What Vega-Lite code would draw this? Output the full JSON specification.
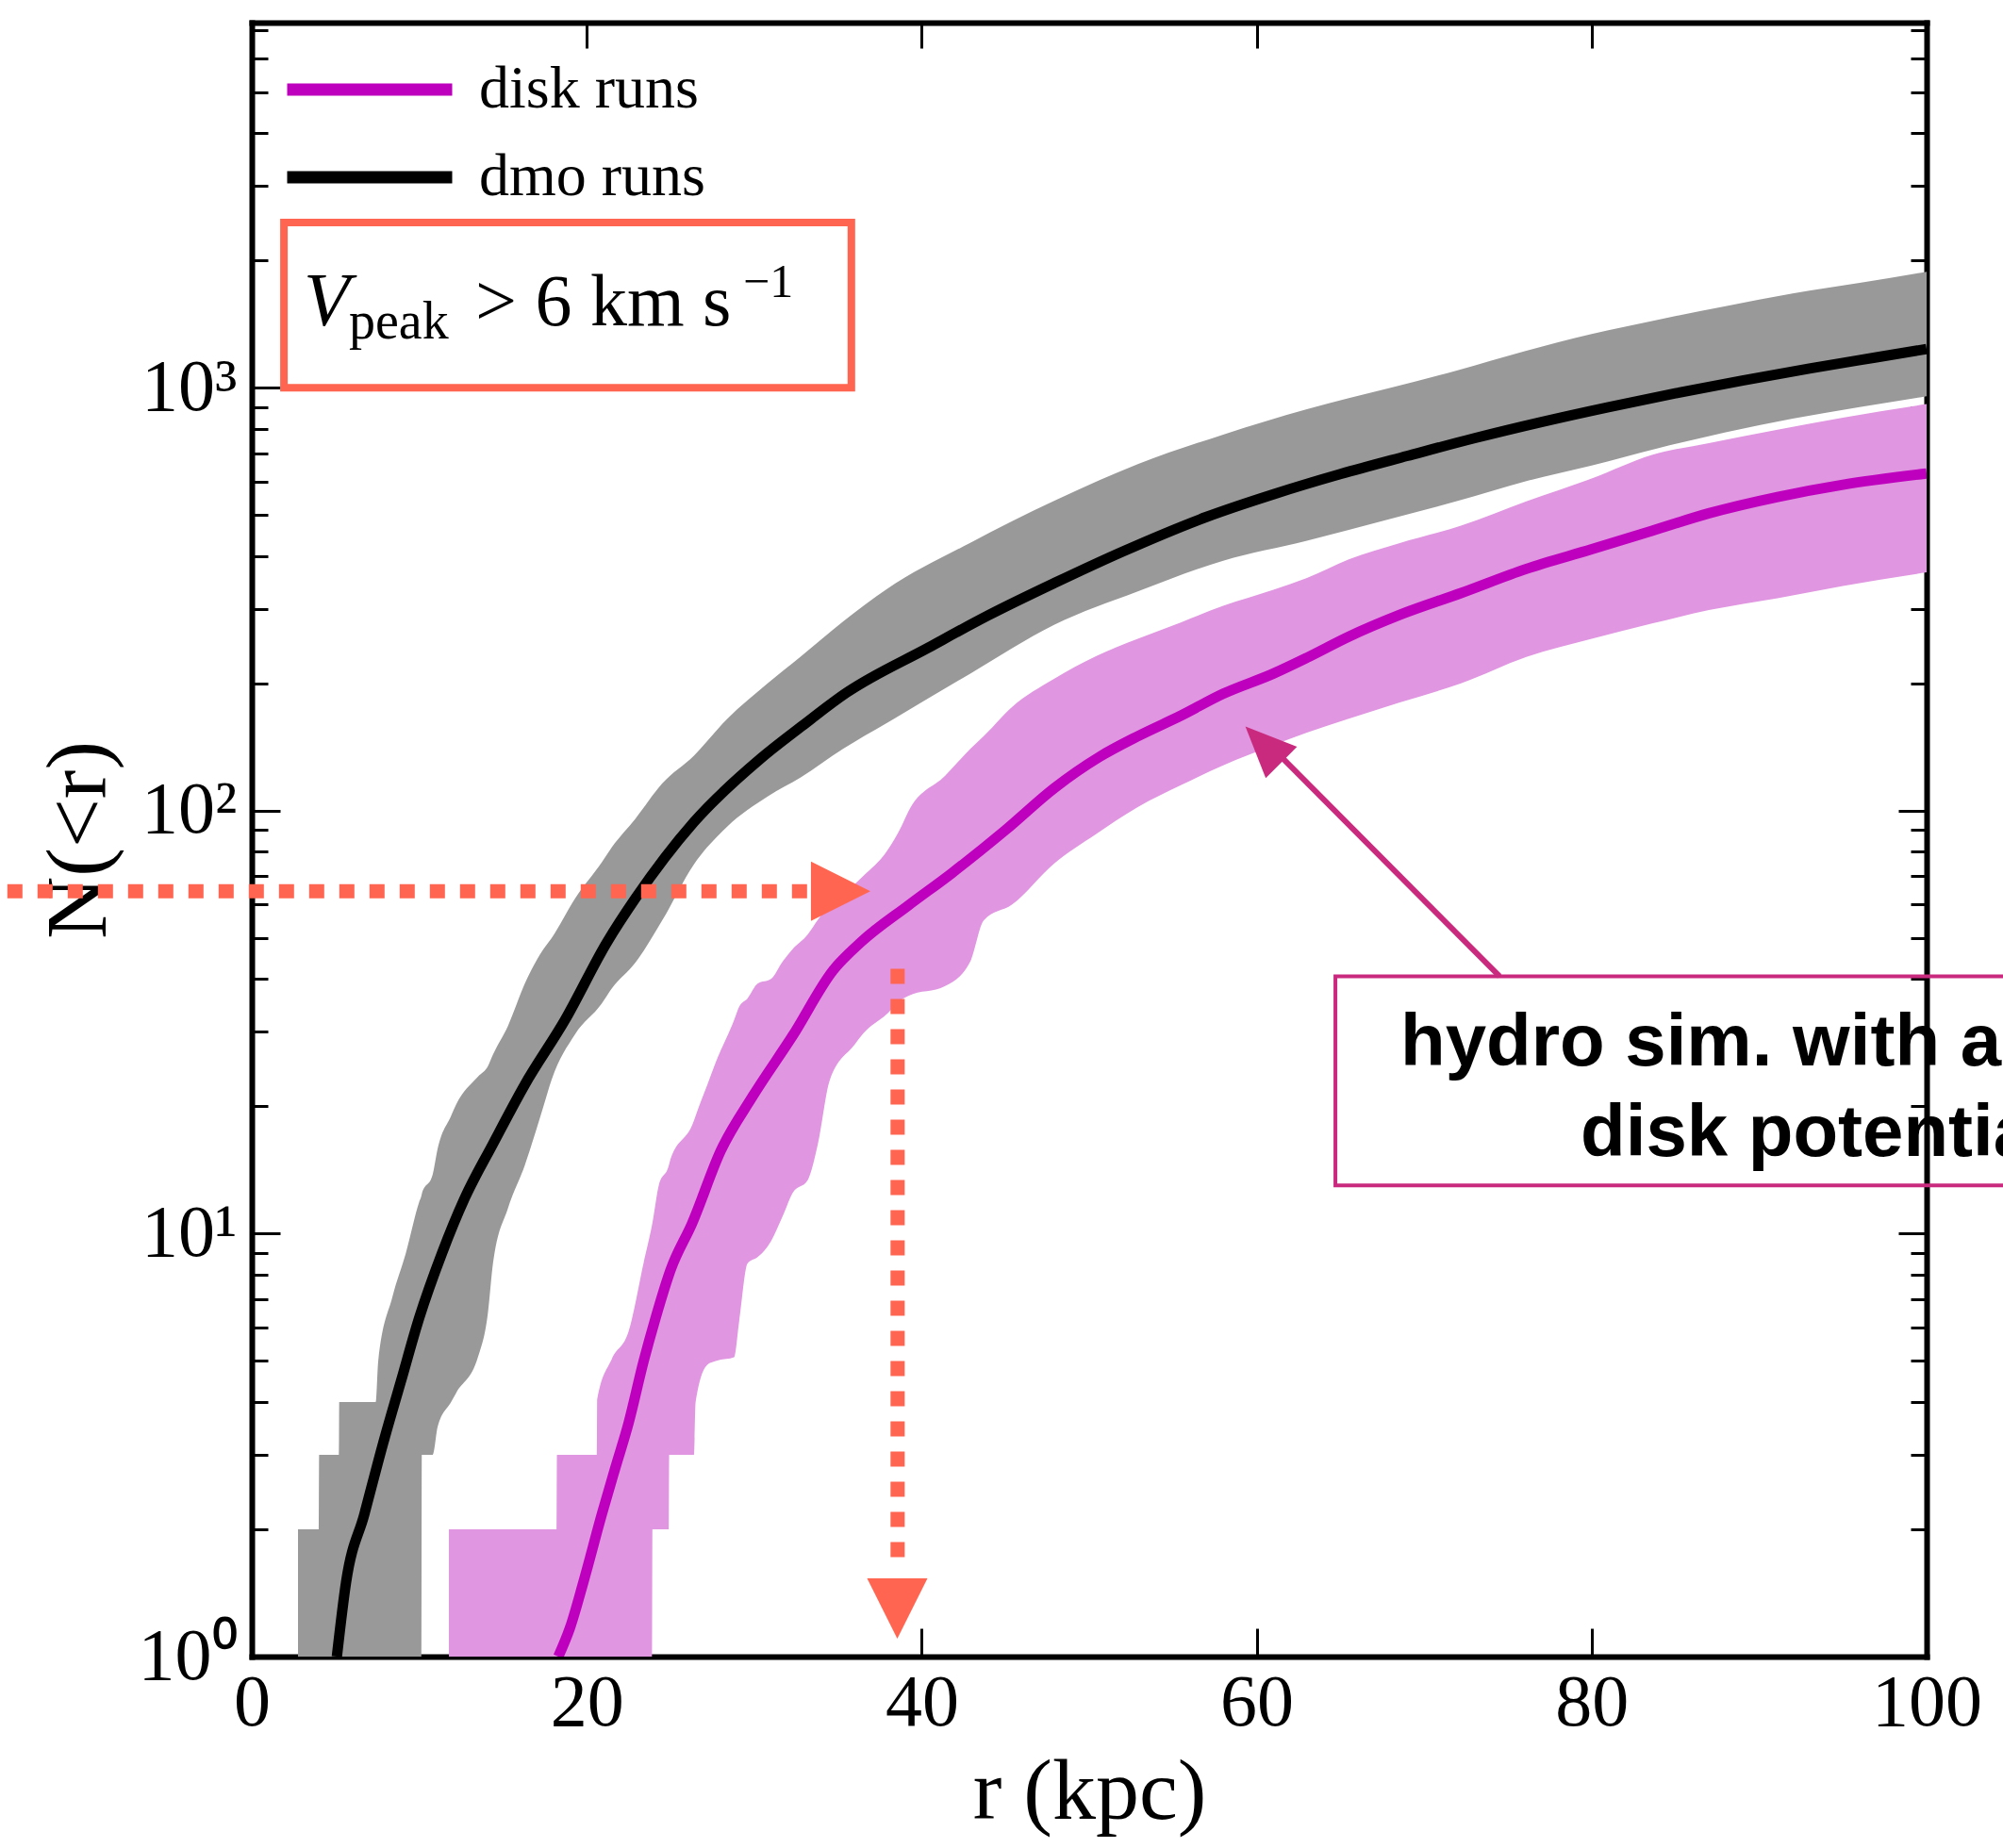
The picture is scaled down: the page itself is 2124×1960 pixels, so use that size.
{
  "$schema": "https://vega.github.io/schema/vega-lite/v6.json",
  "width": 1776,
  "height": 1733,
  "autosize": {"type": "none"},
  "padding": {"left": 267, "top": 24, "right": 81, "bottom": 203},
  "background": "white",
  "config": {"view": {"stroke": null}, "axis": {"zindex": 1, "grid": false}},
  "datasets": {
    "bands": [
      {"run": "dmo", "r": 2.76, "lo": 1, "hi": 2},
      {"run": "dmo", "r": 4.0, "lo": 1, "hi": 2},
      {"run": "dmo", "r": 4.02, "lo": 1, "hi": 3},
      {"run": "dmo", "r": 5.2, "lo": 1, "hi": 3},
      {"run": "dmo", "r": 5.22, "lo": 1, "hi": 4},
      {"run": "dmo", "r": 7.4, "lo": 1, "hi": 4},
      {"run": "dmo", "r": 7.55, "lo": 1, "hi": 5},
      {"run": "dmo", "r": 8.4, "lo": 1, "hi": 7.1},
      {"run": "dmo", "r": 9.2, "lo": 1, "hi": 9},
      {"run": "dmo", "r": 10.0, "lo": 1, "hi": 11.9},
      {"run": "dmo", "r": 10.13, "lo": 1, "hi": 12.3},
      {"run": "dmo", "r": 10.15, "lo": 3, "hi": 12.4},
      {"run": "dmo", "r": 10.8, "lo": 3, "hi": 13.8},
      {"run": "dmo", "r": 11.1, "lo": 3.5, "hi": 15.9},
      {"run": "dmo", "r": 11.9, "lo": 4, "hi": 19},
      {"run": "dmo", "r": 12.2, "lo": 4.2, "hi": 20.2},
      {"run": "dmo", "r": 13.5, "lo": 5.1, "hi": 23.5},
      {"run": "dmo", "r": 14.1, "lo": 6.5, "hi": 24.9},
      {"run": "dmo", "r": 14.4, "lo": 8.5, "hi": 26.5},
      {"run": "dmo", "r": 15.3, "lo": 11.5, "hi": 31},
      {"run": "dmo", "r": 16.3, "lo": 14.5, "hi": 39},
      {"run": "dmo", "r": 17.4, "lo": 19.9, "hi": 47},
      {"run": "dmo", "r": 17.9, "lo": 23.1, "hi": 50},
      {"run": "dmo", "r": 19.3, "lo": 29.6, "hi": 62},
      {"run": "dmo", "r": 20.9, "lo": 35, "hi": 75.5},
      {"run": "dmo", "r": 21.5, "lo": 38, "hi": 82},
      {"run": "dmo", "r": 22.9, "lo": 43.7, "hi": 95.7},
      {"run": "dmo", "r": 24.5, "lo": 55, "hi": 116},
      {"run": "dmo", "r": 26.4, "lo": 74.7, "hi": 135},
      {"run": "dmo", "r": 28.4, "lo": 91.8, "hi": 165},
      {"run": "dmo", "r": 30.8, "lo": 108, "hi": 200},
      {"run": "dmo", "r": 32.8, "lo": 120, "hi": 232},
      {"run": "dmo", "r": 35.3, "lo": 140, "hi": 280},
      {"run": "dmo", "r": 37.9, "lo": 161, "hi": 334},
      {"run": "dmo", "r": 42.9, "lo": 211, "hi": 430},
      {"run": "dmo", "r": 47.9, "lo": 275, "hi": 540},
      {"run": "dmo", "r": 52.9, "lo": 330, "hi": 660},
      {"run": "dmo", "r": 58, "lo": 390, "hi": 775},
      {"run": "dmo", "r": 63, "lo": 435, "hi": 890},
      {"run": "dmo", "r": 68, "lo": 490, "hi": 1000},
      {"run": "dmo", "r": 72, "lo": 540, "hi": 1100},
      {"run": "dmo", "r": 76, "lo": 600, "hi": 1220},
      {"run": "dmo", "r": 80, "lo": 655, "hi": 1340},
      {"run": "dmo", "r": 84, "lo": 720, "hi": 1450},
      {"run": "dmo", "r": 88, "lo": 785, "hi": 1560},
      {"run": "dmo", "r": 92, "lo": 845, "hi": 1670},
      {"run": "dmo", "r": 96, "lo": 900, "hi": 1770},
      {"run": "dmo", "r": 100, "lo": 955, "hi": 1880},
      {"run": "disk", "r": 11.77, "lo": 1, "hi": 2},
      {"run": "disk", "r": 18.2, "lo": 1, "hi": 2},
      {"run": "disk", "r": 18.22, "lo": 1, "hi": 3},
      {"run": "disk", "r": 20.6, "lo": 1, "hi": 3},
      {"run": "disk", "r": 20.62, "lo": 1, "hi": 4.05},
      {"run": "disk", "r": 21.5, "lo": 1, "hi": 5.06},
      {"run": "disk", "r": 22.5, "lo": 1, "hi": 5.88},
      {"run": "disk", "r": 23.4, "lo": 1, "hi": 8.55},
      {"run": "disk", "r": 23.9, "lo": 1, "hi": 10.5},
      {"run": "disk", "r": 23.92, "lo": 2, "hi": 10.6},
      {"run": "disk", "r": 24.3, "lo": 2, "hi": 13},
      {"run": "disk", "r": 24.9, "lo": 2, "hi": 14.5},
      {"run": "disk", "r": 24.92, "lo": 3, "hi": 14.6},
      {"run": "disk", "r": 26.4, "lo": 3, "hi": 18.5},
      {"run": "disk", "r": 26.5, "lo": 4, "hi": 19},
      {"run": "disk", "r": 27.2, "lo": 4.9, "hi": 22.5},
      {"run": "disk", "r": 27.7, "lo": 5, "hi": 25.4},
      {"run": "disk", "r": 28.8, "lo": 5.1, "hi": 32},
      {"run": "disk", "r": 29.1, "lo": 6.2, "hi": 34.4},
      {"run": "disk", "r": 29.6, "lo": 8.5, "hi": 36},
      {"run": "disk", "r": 30.2, "lo": 8.8, "hi": 39},
      {"run": "disk", "r": 31.0, "lo": 9.6, "hi": 40},
      {"run": "disk", "r": 31.7, "lo": 11, "hi": 44},
      {"run": "disk", "r": 32.3, "lo": 12.5, "hi": 47.1},
      {"run": "disk", "r": 33.2, "lo": 13.4, "hi": 51},
      {"run": "disk", "r": 33.8, "lo": 16.3, "hi": 55.2},
      {"run": "disk", "r": 34.5, "lo": 23, "hi": 60},
      {"run": "disk", "r": 36.0, "lo": 28, "hi": 67},
      {"run": "disk", "r": 36.5, "lo": 29.7, "hi": 70},
      {"run": "disk", "r": 37.9, "lo": 33, "hi": 80},
      {"run": "disk", "r": 38.8, "lo": 35.8, "hi": 92},
      {"run": "disk", "r": 39.2, "lo": 36.5, "hi": 99.5},
      {"run": "disk", "r": 41.4, "lo": 38.5, "hi": 121},
      {"run": "disk", "r": 42.9, "lo": 44, "hi": 140},
      {"run": "disk", "r": 43.7, "lo": 55, "hi": 150},
      {"run": "disk", "r": 45.4, "lo": 60, "hi": 176},
      {"run": "disk", "r": 47.9, "lo": 75, "hi": 205},
      {"run": "disk", "r": 50.4, "lo": 88, "hi": 232},
      {"run": "disk", "r": 52.9, "lo": 102, "hi": 255},
      {"run": "disk", "r": 55.5, "lo": 115, "hi": 279},
      {"run": "disk", "r": 58, "lo": 128, "hi": 305},
      {"run": "disk", "r": 61, "lo": 143, "hi": 333},
      {"run": "disk", "r": 63, "lo": 153, "hi": 355},
      {"run": "disk", "r": 65.5, "lo": 165, "hi": 393},
      {"run": "disk", "r": 68.5, "lo": 180, "hi": 429},
      {"run": "disk", "r": 72.2, "lo": 200, "hi": 472},
      {"run": "disk", "r": 76.1, "lo": 231, "hi": 539},
      {"run": "disk", "r": 80, "lo": 255, "hi": 610},
      {"run": "disk", "r": 83.6, "lo": 277, "hi": 694},
      {"run": "disk", "r": 87, "lo": 298, "hi": 740},
      {"run": "disk", "r": 91.1, "lo": 318, "hi": 796},
      {"run": "disk", "r": 95, "lo": 340, "hi": 850},
      {"run": "disk", "r": 100, "lo": 366, "hi": 915}
    ],
    "medians": [
      {"run": "dmo runs", "r": 5.08, "N": 1},
      {"run": "dmo runs", "r": 5.63, "N": 1.5},
      {"run": "dmo runs", "r": 6.72, "N": 2.17},
      {"run": "dmo runs", "r": 7.81, "N": 3.16},
      {"run": "dmo runs", "r": 8.9, "N": 4.47},
      {"run": "dmo runs", "r": 10, "N": 6.33},
      {"run": "dmo runs", "r": 11.36, "N": 9},
      {"run": "dmo runs", "r": 12.7, "N": 12.1},
      {"run": "dmo runs", "r": 14.4, "N": 16.3},
      {"run": "dmo runs", "r": 16.3, "N": 22.5},
      {"run": "dmo runs", "r": 18.7, "N": 32},
      {"run": "dmo runs", "r": 21.2, "N": 48.8},
      {"run": "dmo runs", "r": 22.9, "N": 62},
      {"run": "dmo runs", "r": 26.4, "N": 94},
      {"run": "dmo runs", "r": 30.4, "N": 133},
      {"run": "dmo runs", "r": 32.8, "N": 158},
      {"run": "dmo runs", "r": 35.5, "N": 190},
      {"run": "dmo runs", "r": 40.4, "N": 243},
      {"run": "dmo runs", "r": 44, "N": 290},
      {"run": "dmo runs", "r": 47.9, "N": 345},
      {"run": "dmo runs", "r": 52, "N": 410},
      {"run": "dmo runs", "r": 57, "N": 495},
      {"run": "dmo runs", "r": 61, "N": 560},
      {"run": "dmo runs", "r": 65, "N": 625},
      {"run": "dmo runs", "r": 69, "N": 690},
      {"run": "dmo runs", "r": 73, "N": 760},
      {"run": "dmo runs", "r": 77, "N": 830},
      {"run": "dmo runs", "r": 81, "N": 900},
      {"run": "dmo runs", "r": 85, "N": 970},
      {"run": "dmo runs", "r": 89, "N": 1040},
      {"run": "dmo runs", "r": 93, "N": 1110},
      {"run": "dmo runs", "r": 97, "N": 1180},
      {"run": "dmo runs", "r": 100, "N": 1235},
      {"run": "disk runs", "r": 18.3, "N": 1},
      {"run": "disk runs", "r": 19.0, "N": 1.17},
      {"run": "disk runs", "r": 19.8, "N": 1.5},
      {"run": "disk runs", "r": 20.9, "N": 2.17},
      {"run": "disk runs", "r": 21.7, "N": 2.79},
      {"run": "disk runs", "r": 22.5, "N": 3.57},
      {"run": "disk runs", "r": 23.4, "N": 5.0},
      {"run": "disk runs", "r": 24.1, "N": 6.3},
      {"run": "disk runs", "r": 25.0, "N": 8.2},
      {"run": "disk runs", "r": 26.3, "N": 10.6},
      {"run": "disk runs", "r": 28.0, "N": 15.7},
      {"run": "disk runs", "r": 29.9, "N": 21.1},
      {"run": "disk runs", "r": 32.3, "N": 29.4},
      {"run": "disk runs", "r": 34.7, "N": 41.9},
      {"run": "disk runs", "r": 36.4, "N": 49},
      {"run": "disk runs", "r": 39.2, "N": 59.7},
      {"run": "disk runs", "r": 41.8, "N": 71.2},
      {"run": "disk runs", "r": 45.0, "N": 90},
      {"run": "disk runs", "r": 47.9, "N": 113},
      {"run": "disk runs", "r": 50.6, "N": 134},
      {"run": "disk runs", "r": 52.9, "N": 150},
      {"run": "disk runs", "r": 55.5, "N": 168},
      {"run": "disk runs", "r": 58.0, "N": 189},
      {"run": "disk runs", "r": 61.0, "N": 211},
      {"run": "disk runs", "r": 63.0, "N": 230},
      {"run": "disk runs", "r": 65.5, "N": 258},
      {"run": "disk runs", "r": 68.5, "N": 290},
      {"run": "disk runs", "r": 72.2, "N": 327},
      {"run": "disk runs", "r": 76.1, "N": 373},
      {"run": "disk runs", "r": 80, "N": 415},
      {"run": "disk runs", "r": 83.6, "N": 459},
      {"run": "disk runs", "r": 87, "N": 505},
      {"run": "disk runs", "r": 91.1, "N": 552},
      {"run": "disk runs", "r": 95, "N": 590},
      {"run": "disk runs", "r": 100, "N": 627}
    ]
  },
  "layer": [
    {
      "data": {"name": "bands"},
      "mark": {"type": "area", "clip": true, "interpolate": "monotone"},
      "encoding": {
        "x": {"field": "r", "type": "quantitative", "scale": {"domain": [0, 100], "nice": false, "zero": false},
          "axis": {"orient": "bottom", "values": [0, 20, 40, 60, 80, 100], "ticks": false, "domain": true, "domainWidth": 6, "domainColor": "black", "domainCap": "square",
            "labelFont": "Liberation Serif", "labelFontSize": 78, "labelColor": "black", "labelPadding": 10, "labelFlush": false, "labelOverlap": false,
            "title": "r (kpc)", "titleFont": "Liberation Serif", "titleFontSize": 92, "titleFontWeight": "normal", "titleColor": "black", "titlePadding": 10}},
        "y": {"field": "hi", "type": "quantitative", "scale": {"type": "log", "domain": [1, 7300], "nice": false},
          "axis": {"orient": "left", "values": [1, 10, 100, 1000], "ticks": false, "domain": true, "domainWidth": 6, "domainColor": "black", "domainCap": "square",
            "labelExpr": "datum.value == 1 ? '10⁰' : datum.value == 10 ? '10¹' : datum.value == 100 ? '10²' : '10³'",
            "labelFont": "Liberation Serif", "labelFontSize": 78, "labelColor": "black", "labelPadding": 16, "labelOverlap": false, "labelFlush": false,
            "title": "N(<r)", "titleFont": "Liberation Serif", "titleFontSize": 92, "titleFontWeight": "normal", "titleColor": "black", "titlePadding": 16}},
        "y2": {"field": "lo"},
        "fill": {"field": "run", "type": "nominal", "scale": {"domain": ["dmo", "disk"], "range": ["#999999", "#E096E0"]}, "legend": null}
      }
    },
    {
      "data": {"name": "medians"},
      "mark": {"type": "line", "clip": true, "strokeWidth": 11, "strokeJoin": "round", "interpolate": "monotone"},
      "encoding": {
        "x": {"field": "r", "type": "quantitative", "scale": {"domain": [0, 100], "nice": false, "zero": false},
          "axis": {"orient": "bottom", "values": [0, 20, 40, 60, 80, 100], "ticks": true, "tickSize": -30, "tickWidth": 3, "tickColor": "black", "labels": false, "domain": false, "title": null}},
        "y": {"field": "N", "type": "quantitative", "scale": {"type": "log", "domain": [1, 7300], "nice": false},
          "axis": {"orient": "left", "values": [1, 2, 3, 4, 5, 6, 7, 8, 9, 10, 20, 30, 40, 50, 60, 70, 80, 90, 100, 200, 300, 400, 500, 600, 700, 800, 900, 1000, 2000, 3000, 4000, 5000, 6000, 7000],
            "ticks": true, "tickSize": {"condition": {"test": "datum.value == 1 || datum.value == 10 || datum.value == 100 || datum.value == 1000", "value": -30}, "value": -17},
            "tickWidth": 3, "tickColor": "black", "labels": false, "domain": false, "title": null}},
        "color": {"field": "run", "type": "nominal", "scale": {"domain": ["disk runs", "dmo runs"], "range": ["#BE00BE", "#000000"]},
          "legend": {"orient": "none", "legendX": 31, "legendY": 31, "title": null, "symbolType": "stroke", "symbolSize": 30625, "symbolStrokeWidth": 13,
            "labelFont": "Liberation Serif", "labelFontSize": 64, "labelColor": "black", "labelOffset": 22, "clipHeight": 80, "rowPadding": 13, "padding": 0, "labelLimit": 0}}
      }
    },
    {
      "data": {"values": [{"r1": 1.92, "r2": 35.8, "N1": 1000, "N2": 2460}]},
      "mark": {"type": "rect", "filled": false, "color": "#FF6550", "strokeWidth": 8, "clip": false},
      "encoding": {
        "x": {"field": "r1", "type": "quantitative", "scale": {"domain": [0, 100], "nice": false, "zero": false},
          "axis": {"orient": "top", "values": [0, 20, 40, 60, 80, 100], "ticks": true, "tickSize": -27, "tickWidth": 3, "tickColor": "black", "labels": false, "domain": true, "domainWidth": 6, "domainColor": "black", "domainCap": "square", "title": null}},
        "x2": {"field": "r2"},
        "y": {"field": "N1", "type": "quantitative", "scale": {"type": "log", "domain": [1, 7300], "nice": false},
          "axis": {"orient": "right", "values": [1, 2, 3, 4, 5, 6, 7, 8, 9, 10, 20, 30, 40, 50, 60, 70, 80, 90, 100, 200, 300, 400, 500, 600, 700, 800, 900, 1000, 2000, 3000, 4000, 5000, 6000, 7000],
            "ticks": true, "tickSize": {"condition": {"test": "datum.value == 1 || datum.value == 10 || datum.value == 100 || datum.value == 1000", "value": -30}, "value": -17},
            "tickWidth": 3, "tickColor": "black", "labels": false, "domain": true, "domainWidth": 6, "domainColor": "black", "domainCap": "square", "title": null}},
        "y2": {"field": "N2"}
      }
    },
    {
      "data": {"values": [{"r1": 64.7, "r2": 130, "N1": 13.0, "N2": 40.6}]},
      "mark": {"type": "rect", "filled": false, "color": "#C92A7E", "strokeWidth": 4, "clip": false},
      "encoding": {
        "x": {"field": "r1", "type": "quantitative", "scale": {"domain": [0, 100], "nice": false, "zero": false}, "axis": null},
        "x2": {"field": "r2"},
        "y": {"field": "N1", "type": "quantitative", "scale": {"type": "log", "domain": [1, 7300], "nice": false}, "axis": null},
        "y2": {"field": "N2"}
      }
    },
    {
      "data": {"values": [
        {"r1": -20, "r2": 33.9, "N1": 64.5, "N2": 64.5},
        {"r1": 38.56, "r2": 38.56, "N1": 42.3, "N2": 1.6}
      ]},
      "mark": {"type": "rule", "color": "#FF6550", "strokeWidth": 15, "strokeDash": [16, 16], "strokeCap": "butt", "clip": false},
      "encoding": {
        "x": {"field": "r1", "type": "quantitative", "scale": {"domain": [0, 100], "nice": false, "zero": false}, "axis": null},
        "x2": {"field": "r2"},
        "y": {"field": "N1", "type": "quantitative", "scale": {"type": "log", "domain": [1, 7300], "nice": false}, "axis": null},
        "y2": {"field": "N2"}
      }
    },
    {
      "data": {"values": [{"r1": 74.5, "r2": 61.0, "N1": 40.6, "N2": 140}]},
      "mark": {"type": "rule", "color": "#C92A7E", "strokeWidth": 6, "clip": false},
      "encoding": {
        "x": {"field": "r1", "type": "quantitative", "scale": {"domain": [0, 100], "nice": false, "zero": false}, "axis": null},
        "x2": {"field": "r2"},
        "y": {"field": "N1", "type": "quantitative", "scale": {"type": "log", "domain": [1, 7300], "nice": false}, "axis": null},
        "y2": {"field": "N2"}
      }
    },
    {
      "data": {"values": [{"r": 35.16, "N": 64.5}]},
      "mark": {"type": "point", "shape": "M-1,-1L1,0L-1,1Z", "size": 3969, "filled": true, "color": "#FF6550", "opacity": 1, "clip": false},
      "encoding": {
        "x": {"field": "r", "type": "quantitative", "scale": {"domain": [0, 100], "nice": false, "zero": false}, "axis": null},
        "y": {"field": "N", "type": "quantitative", "scale": {"type": "log", "domain": [1, 7300], "nice": false}, "axis": null}
      }
    },
    {
      "data": {"values": [{"r": 38.54, "N": 1.30}]},
      "mark": {"type": "point", "shape": "M-1,-1L1,-1L0,1Z", "size": 4096, "filled": true, "color": "#FF6550", "opacity": 1, "clip": false},
      "encoding": {
        "x": {"field": "r", "type": "quantitative", "scale": {"domain": [0, 100], "nice": false, "zero": false}, "axis": null},
        "y": {"field": "N", "type": "quantitative", "scale": {"type": "log", "domain": [1, 7300], "nice": false}, "axis": null}
      }
    },
    {
      "data": {"values": [{"r": 60.4, "N": 143.5}]},
      "mark": {"type": "point", "shape": "M-1,-0.87L1,0L-1,0.87Z", "size": 2916, "angle": 225, "filled": true, "color": "#C92A7E", "opacity": 1, "clip": false},
      "encoding": {
        "x": {"field": "r", "type": "quantitative", "scale": {"domain": [0, 100], "nice": false, "zero": false}, "axis": null},
        "y": {"field": "N", "type": "quantitative", "scale": {"type": "log", "domain": [1, 7300], "nice": false}, "axis": null}
      }
    },
    {
      "data": {"values": [
        {"r": 68.58, "N": 25.0, "t": "hydro sim. with a"},
        {"r": 79.34, "N": 15.3, "t": "disk potential"}
      ]},
      "mark": {"type": "text", "font": "Liberation Sans", "fontWeight": "bold", "fontSize": 78, "align": "left", "baseline": "alphabetic", "color": "black", "clip": false},
      "encoding": {
        "x": {"field": "r", "type": "quantitative", "scale": {"domain": [0, 100], "nice": false, "zero": false}, "axis": null},
        "y": {"field": "N", "type": "quantitative", "scale": {"type": "log", "domain": [1, 7300], "nice": false}, "axis": null},
        "text": {"field": "t"}
      }
    },
    {
      "data": {"values": [{"r": 3.10, "N": 1402, "t": "V"}]},
      "mark": {"type": "text", "font": "Liberation Serif", "fontStyle": "italic", "fontSize": 80, "align": "left", "baseline": "alphabetic", "color": "black", "clip": false},
      "encoding": {
        "x": {"field": "r", "type": "quantitative", "scale": {"domain": [0, 100], "nice": false, "zero": false}, "axis": null},
        "y": {"field": "N", "type": "quantitative", "scale": {"type": "log", "domain": [1, 7300], "nice": false}, "axis": null},
        "text": {"field": "t"}
      }
    },
    {
      "data": {"values": [{"r": 5.80, "N": 1305, "t": "peak"}]},
      "mark": {"type": "text", "font": "Liberation Serif", "fontSize": 56, "align": "left", "baseline": "alphabetic", "color": "black", "clip": false},
      "encoding": {
        "x": {"field": "r", "type": "quantitative", "scale": {"domain": [0, 100], "nice": false, "zero": false}, "axis": null},
        "y": {"field": "N", "type": "quantitative", "scale": {"type": "log", "domain": [1, 7300], "nice": false}, "axis": null},
        "text": {"field": "t"}
      }
    },
    {
      "data": {"values": [{"r": 13.34, "N": 1402, "t": "> 6 km s"}]},
      "mark": {"type": "text", "font": "Liberation Serif", "fontSize": 78, "align": "left", "baseline": "alphabetic", "color": "black", "clip": false},
      "encoding": {
        "x": {"field": "r", "type": "quantitative", "scale": {"domain": [0, 100], "nice": false, "zero": false}, "axis": null},
        "y": {"field": "N", "type": "quantitative", "scale": {"type": "log", "domain": [1, 7300], "nice": false}, "axis": null},
        "text": {"field": "t"}
      }
    },
    {
      "data": {"values": [{"r": 29.34, "N": 1636, "t": "−1"}]},
      "mark": {"type": "text", "font": "Liberation Serif", "fontSize": 50, "align": "left", "baseline": "alphabetic", "color": "black", "clip": false},
      "encoding": {
        "x": {"field": "r", "type": "quantitative", "scale": {"domain": [0, 100], "nice": false, "zero": false}, "axis": null},
        "y": {"field": "N", "type": "quantitative", "scale": {"type": "log", "domain": [1, 7300], "nice": false}, "axis": null},
        "text": {"field": "t"}
      }
    }
  ],
  "resolve": {"axis": {"x": "independent", "y": "independent"}}
}
